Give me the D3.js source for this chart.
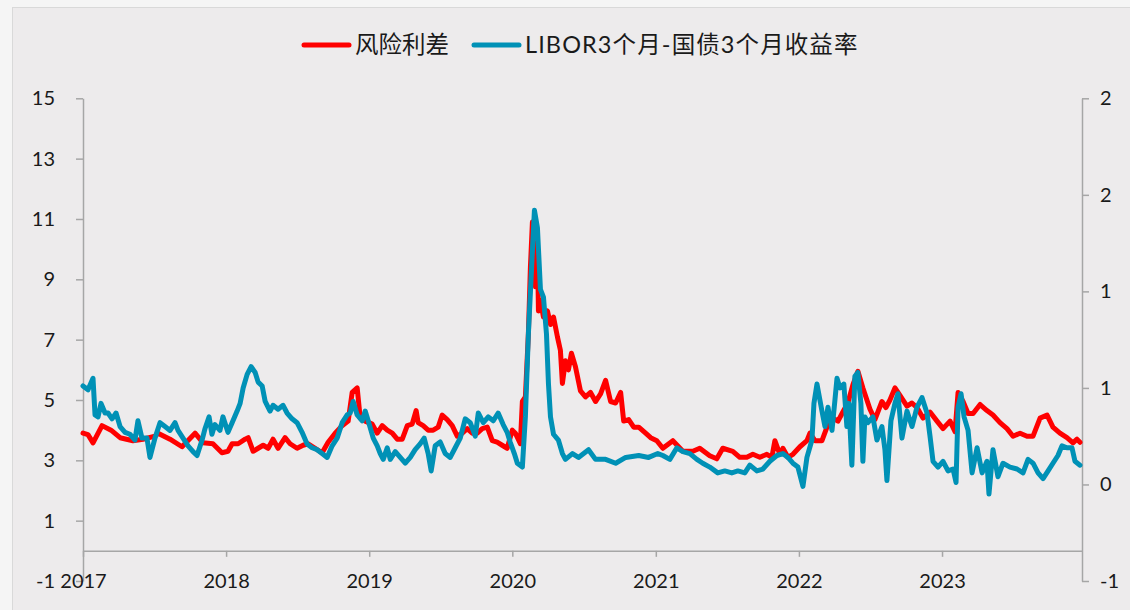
<!DOCTYPE html>
<html>
<head>
<meta charset="utf-8">
<script src="https://cdn.jsdelivr.net/npm/d3@7"></script>
<style>
  html, body { margin: 0; padding: 0; background: #F5F5F5; }
  svg { display: block; }
  text { font-family: Lato, "Noto Sans CJK SC", sans-serif; fill: #1a1a1a; }
</style>
</head>
<body>
<svg id="chart" width="1130" height="610"></svg>
<script>
// ---------------- data ----------------
const seriesNames = ["风险利差", "LIBOR3个月-国债3个月收益率"];

const redYears = [
  2017.000,2017.035,2017.070,2017.133,2017.196,2017.259,2017.349,2017.419,2017.503,2017.524,2017.608,2017.692,2017.783,2017.839,2017.908,2017.971,
  2018.013,2018.042,2018.084,2018.133,2018.154,2018.189,2018.224,2018.259,2018.294,2018.328,2018.363,2018.412,2018.447,2018.496,2018.538,2018.573,2018.622,2018.671,2018.713,2018.762,2018.811,2018.853,2018.881,2018.916,2018.937,2018.972,
  2019.021,2019.056,2019.091,2019.126,2019.161,2019.196,2019.231,2019.266,2019.300,2019.328,2019.342,2019.377,2019.412,2019.447,2019.482,2019.510,2019.545,2019.580,2019.615,2019.650,2019.685,2019.720,2019.755,2019.790,2019.825,2019.860,2019.894,2019.929,2019.964,
  2020.000,2020.021,2020.056,2020.070,2020.091,2020.112,2020.126,2020.140,2020.161,2020.175,2020.182,2020.196,2020.217,2020.245,2020.266,2020.287,2020.314,2020.335,2020.349,2020.370,2020.391,2020.412,2020.440,2020.475,2020.510,2020.545,2020.580,2020.615,2020.650,2020.685,2020.720,2020.755,2020.776,2020.811,2020.846,2020.881,2020.929,2020.964,
  2021.007,2021.049,2021.119,2021.189,2021.259,2021.307,2021.377,2021.426,2021.468,2021.538,2021.587,2021.636,2021.678,2021.727,2021.776,2021.811,2021.832,2021.867,2021.888,2021.923,2021.958,
  2022.007,2022.056,2022.077,2022.112,2022.161,2022.196,2022.238,2022.273,2022.307,2022.342,2022.377,2022.412,2022.447,2022.496,2022.531,2022.580,2022.608,2022.636,2022.671,2022.706,2022.755,2022.790,2022.825,2022.867,2022.916,2022.965,
  2023.007,2023.056,2023.091,2023.112,2023.147,2023.182,2023.217,2023.266,2023.314,2023.356,2023.405,2023.454,2023.496,2023.545,2023.594,2023.636,2023.685,2023.734,2023.775,2023.824,2023.873,2023.915,2023.943,2023.964
];
const redValues = [
  3.90,3.85,3.58,4.15,4.00,3.75,3.65,3.70,3.80,3.90,3.70,3.45,3.90,3.58,3.55,3.25,
  3.30,3.55,3.55,3.70,3.75,3.30,3.40,3.50,3.40,3.70,3.40,3.75,3.55,3.40,3.50,3.55,3.40,3.25,3.60,3.90,4.15,4.30,5.25,5.40,4.40,4.30,
  4.20,3.90,4.15,4.00,3.90,3.70,3.70,4.15,4.20,4.65,4.25,4.15,4.00,4.00,4.10,4.50,4.35,4.15,3.80,3.90,4.05,3.90,3.90,4.05,4.10,3.65,3.60,3.50,3.40,
  4.00,3.90,3.55,4.95,5.10,7.20,9.40,10.90,8.75,10.20,7.95,8.30,7.75,7.95,7.50,7.75,7.10,6.65,5.55,6.30,6.00,6.55,6.10,5.30,5.10,5.25,4.95,5.20,5.65,4.95,4.90,5.25,4.30,4.35,4.10,4.10,3.90,3.75,
  3.65,3.40,3.65,3.30,3.30,3.40,3.15,3.05,3.40,3.30,3.10,3.10,3.20,3.10,3.20,3.10,3.65,3.20,3.40,3.10,3.20,
  3.45,3.65,3.90,3.65,3.65,4.10,4.40,4.30,4.60,4.90,5.50,5.95,5.40,4.70,4.35,4.95,4.75,5.00,5.40,5.15,4.80,4.90,4.75,4.40,4.60,4.30,
  4.05,4.30,3.95,5.25,4.95,4.55,4.55,4.85,4.65,4.50,4.25,4.05,3.80,3.90,3.80,3.80,4.40,4.50,4.10,3.90,3.75,3.58,3.70,3.60
];

const blueYears = [
  2017.000,2017.035,2017.070,2017.084,2017.105,2017.126,2017.154,2017.175,2017.203,2017.231,2017.259,2017.294,2017.328,2017.363,2017.384,2017.412,2017.447,2017.468,2017.503,2017.538,2017.573,2017.608,2017.643,2017.664,2017.699,2017.734,2017.769,2017.797,2017.832,2017.853,2017.881,2017.901,2017.922,2017.957,2017.978,
  2018.013,2018.042,2018.077,2018.098,2018.119,2018.147,2018.175,2018.203,2018.224,2018.252,2018.273,2018.307,2018.328,2018.363,2018.398,2018.426,2018.461,2018.496,2018.531,2018.566,2018.601,2018.636,2018.671,2018.706,2018.741,2018.776,2018.811,2018.846,2018.867,2018.888,2018.916,2018.951,2018.972,2018.993,
  2019.028,2019.056,2019.077,2019.098,2019.126,2019.147,2019.182,2019.217,2019.252,2019.287,2019.321,2019.356,2019.384,2019.412,2019.433,2019.461,2019.496,2019.531,2019.566,2019.601,2019.636,2019.671,2019.706,2019.741,2019.762,2019.797,2019.832,2019.867,2019.901,2019.936,2019.964,2019.985,
  2020.014,2020.035,2020.070,2020.091,2020.112,2020.140,2020.154,2020.175,2020.196,2020.217,2020.238,2020.252,2020.266,2020.287,2020.321,2020.349,2020.370,2020.419,2020.461,2020.531,2020.580,2020.650,2020.720,2020.790,2020.881,2020.950,
  2021.014,2021.049,2021.098,2021.147,2021.189,2021.238,2021.287,2021.328,2021.377,2021.433,2021.482,2021.531,2021.573,2021.622,2021.657,2021.706,2021.748,2021.797,2021.846,2021.888,2021.923,2021.958,2021.993,
  2022.028,2022.056,2022.091,2022.105,2022.126,2022.161,2022.182,2022.203,2022.231,2022.252,2022.266,2022.287,2022.314,2022.335,2022.349,2022.370,2022.391,2022.412,2022.433,2022.447,2022.461,2022.482,2022.517,2022.545,2022.580,2022.601,2022.615,2022.643,2022.671,2022.692,2022.720,2022.755,2022.790,2022.825,2022.860,2022.895,2022.916,2022.937,2022.972,
  2023.007,2023.042,2023.077,2023.098,2023.112,2023.133,2023.154,2023.182,2023.210,2023.245,2023.280,2023.314,2023.328,2023.356,2023.391,2023.426,2023.475,2023.524,2023.566,2023.601,2023.636,2023.671,2023.706,2023.741,2023.775,2023.810,2023.838,2023.873,2023.908,2023.929,2023.964
];
const blueValues = [
  0.51,0.49,0.55,0.36,0.35,0.42,0.37,0.37,0.34,0.37,0.30,0.27,0.26,0.23,0.33,0.24,0.24,0.14,0.24,0.32,0.30,0.28,0.32,0.28,0.24,0.20,0.17,0.15,0.23,0.29,0.35,0.26,0.31,0.28,0.35,
  0.27,0.32,0.38,0.42,0.50,0.57,0.61,0.58,0.53,0.51,0.43,0.38,0.41,0.39,0.41,0.37,0.34,0.32,0.27,0.21,0.19,0.18,0.16,0.14,0.20,0.24,0.32,0.36,0.37,0.43,0.36,0.33,0.38,0.33,
  0.24,0.20,0.16,0.13,0.19,0.13,0.17,0.14,0.11,0.14,0.18,0.21,0.24,0.16,0.07,0.20,0.22,0.16,0.14,0.19,0.24,0.34,0.32,0.25,0.37,0.32,0.35,0.33,0.37,0.31,0.27,0.22,
  0.16,0.11,0.09,0.35,0.78,1.21,1.42,1.33,1.01,0.97,0.78,0.52,0.35,0.26,0.23,0.16,0.13,0.16,0.14,0.18,0.13,0.13,0.11,0.14,0.15,0.14,
  0.16,0.15,0.13,0.19,0.17,0.16,0.13,0.11,0.09,0.06,0.07,0.06,0.07,0.06,0.10,0.07,0.08,0.12,0.15,0.16,0.14,0.11,0.09,
  -0.01,0.14,0.23,0.42,0.52,0.38,0.30,0.40,0.28,0.44,0.55,0.50,0.52,0.30,0.42,0.10,0.56,0.58,0.42,0.12,0.35,0.32,0.35,0.23,0.30,0.18,0.02,0.33,0.42,0.47,0.24,0.38,0.30,0.40,0.45,0.37,0.25,0.12,0.09,
  0.12,0.07,0.08,0.01,0.40,0.47,0.35,0.28,0.06,0.19,0.06,0.12,-0.05,0.18,0.04,0.11,0.09,0.08,0.06,0.13,0.11,0.06,0.03,0.07,0.11,0.15,0.20,0.19,0.19,0.12,0.10
];

const yearTicks = [2017, 2018, 2019, 2020, 2021, 2022, 2023];
const leftTicks = [-1, 1, 3, 5, 7, 9, 11, 13, 15];
const rightTicks = [-0.5, 0, 0.5, 1, 1.5, 2];
const rightTickLabels = ["-1", "0", "1", "1", "2", "2"];
const xAxisCrossValue = 0;   // left-axis value where the date axis is drawn

// ---------------- helpers ----------------
function yearToDate(y) {
  const yr = Math.floor(y);
  const s = new Date(yr, 0, 1), e = new Date(yr + 1, 0, 1);
  return new Date(+s + (y - yr) * (e - s));
}
const redData = redYears.map((y, i) => ({ d: yearToDate(y), v: redValues[i] }));
const blueData = blueYears.map((y, i) => ({ d: yearToDate(y), v: blueValues[i] }));

// ---------------- layout ----------------
const svg = d3.select("#chart");
const W = 1130, H = 610;
const plot = { left: 83, right: 1082, top: 98.3, bottom: 581 };

svg.append("rect").attr("x", 0).attr("y", 0).attr("width", W).attr("height", H).attr("fill", "#F5F5F5");
svg.append("rect").attr("x", 12.5).attr("y", 7.5).attr("width", W).attr("height", H)
  .attr("fill", "#EDEBEC").attr("stroke", "#D9D9D9").attr("stroke-width", 1);

const x = d3.scaleTime()
  .domain([new Date(2017, 0, 1), new Date(2023, 11, 24)])
  .range([plot.left, plot.right]);
const yL = d3.scaleLinear().domain([-1, 15]).range([plot.bottom, plot.top]);
const yR = d3.scaleLinear().domain([-0.5, 2]).range([plot.bottom, plot.top]);

const axisColor = "#A6A6A6";

// left axis
const gL = svg.append("g").attr("transform", `translate(${plot.left},0)`)
  .call(d3.axisLeft(yL).tickValues(leftTicks).tickSize(7).tickSizeOuter(0).tickFormat(d => String(d)));
// right axis
const gR = svg.append("g").attr("transform", `translate(${plot.right},0)`)
  .call(d3.axisRight(yR).tickValues(rightTicks).tickSize(7).tickSizeOuter(0)
    .tickFormat((d, i) => rightTickLabels[i]));
// date axis
const gX = svg.append("g").attr("transform", `translate(0,${yL(xAxisCrossValue)})`)
  .call(d3.axisBottom(x).tickValues(yearTicks.map(y => new Date(y, 0, 1)))
    .tickSize(6).tickSizeOuter(0).tickFormat(d3.timeFormat("%Y")));

[gL, gR, gX].forEach(g => {
  g.select(".domain").attr("stroke", axisColor).attr("stroke-width", 1.5);
  g.selectAll(".tick line").attr("stroke", axisColor).attr("stroke-width", 1.5);
  g.selectAll("text").attr("font-size", 20).attr("fill", "#1a1a1a")
    .style("font-family", "Lato, 'Noto Sans CJK SC', sans-serif");
});
gL.selectAll(".tick text").attr("x", -28);
gR.selectAll(".tick text").attr("x", 18);
// year labels placed below, near the bottom of the vertical axes
gX.selectAll(".tick text").attr("dy", "0.35em").attr("y", plot.bottom - yL(xAxisCrossValue));

// lines
const lineL = d3.line().x(d => x(d.d)).y(d => yL(d.v));
const lineR = d3.line().x(d => x(d.d)).y(d => yR(d.v));
const redColor = "#FF0000", blueColor = "#0091B6";

svg.append("path").datum(redData).attr("d", lineL)
  .attr("fill", "none").attr("stroke", redColor).attr("stroke-width", 5)
  .attr("stroke-linejoin", "round").attr("stroke-linecap", "round");
svg.append("path").datum(blueData).attr("d", lineR)
  .attr("fill", "none").attr("stroke", blueColor).attr("stroke-width", 5)
  .attr("stroke-linejoin", "round").attr("stroke-linecap", "round");

// legend
const legend = [
  { name: seriesNames[0], color: redColor, x0: 304, spacing: 0 },
  { name: seriesNames[1], color: blueColor, x0: 474, spacing: 1.1 }
];
const lg = svg.append("g");
legend.forEach(l => {
  lg.append("line").attr("x1", l.x0).attr("x2", l.x0 + 45).attr("y1", 45).attr("y2", 45)
    .attr("stroke", l.color).attr("stroke-width", 5).attr("stroke-linecap", "round");
  lg.append("text").attr("x", l.x0 + 51).attr("y", 45).attr("dy", "0.35em")
    .attr("font-size", 23.5).attr("letter-spacing", l.spacing).text(l.name);
});
</script>
</body>
</html>
